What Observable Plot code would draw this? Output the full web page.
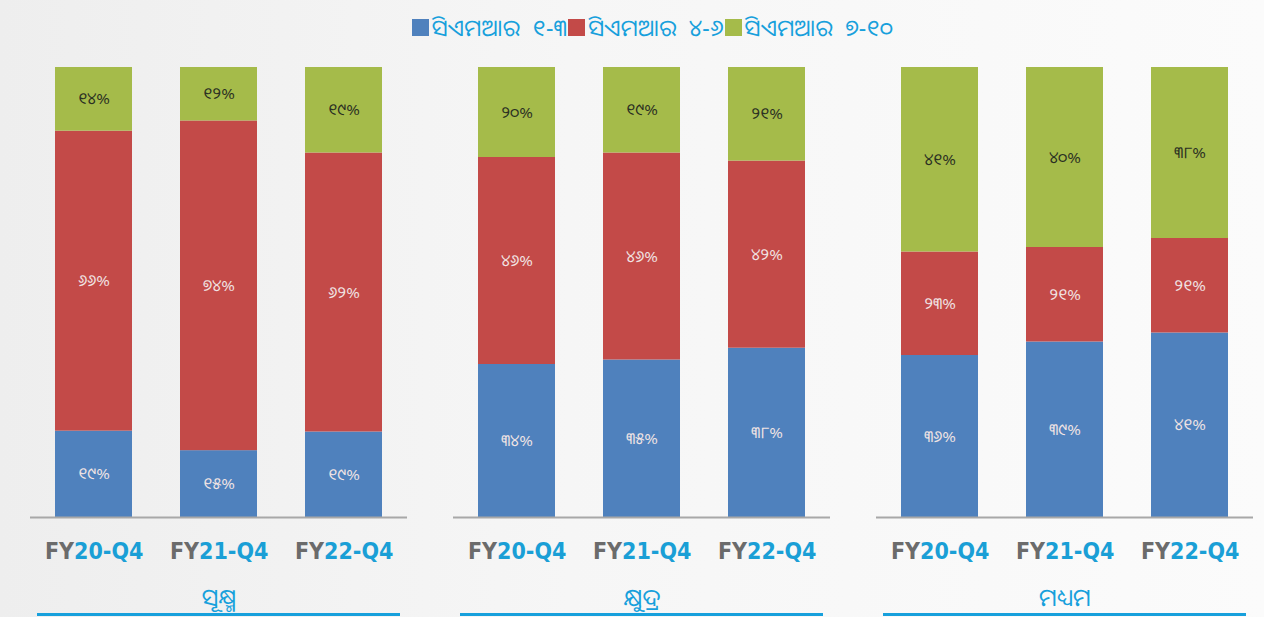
<!DOCTYPE html>
<html><head><meta charset="utf-8">
<script src="https://cdn.jsdelivr.net/npm/d3@7"></script>
<script src="https://cdn.jsdelivr.net/npm/@observablehq/plot@0.6"></script>
<style>
html,body{margin:0;padding:0;}
body{width:1264px;height:617px;overflow:hidden;background:linear-gradient(90deg,#eeeeee 0%,#f6f6f6 45%,#fbfbfb 100%);font-family:"Noto Sans Oriya","Noto Sans Odia","Lohit Odia","Noto Sans",sans-serif;}
#legend{height:54px;display:flex;justify-content:center;align-items:center;color:#17a0dc;font-size:23px;word-spacing:6px;letter-spacing:0.4px;padding-left:42px;box-sizing:border-box;}
#legend .sw{display:inline-block;width:17px;height:17px;margin:0 3px 0 0;}
#legend .it{display:flex;align-items:center;margin-right:1px;}
#chart svg{display:block;background:transparent;}
</style></head><body>
<div id="legend"></div><div id="chart"></div>
<script>
// categories
const groups = ["ସୂକ୍ଷ୍ମ", "କ୍ଷୁଦ୍ର", "ମଧ୍ୟମ"];
const years = ["FY20-Q4", "FY21-Q4", "FY22-Q4"];
const series = ["ସିଏମଆର ୧-୩", "ସିଏମଆର ୪-୬", "ସିଏମଆର ୭-୧୦"];
const colors = ["#4f81bd", "#c34a48", "#a5bb4a"];
// values (%) per group, in year order
const cmr13  = {"ସୂକ୍ଷ୍ମ": [19, 15, 19], "କ୍ଷୁଦ୍ର": [34, 35, 38], "ମଧ୍ୟମ": [36, 39, 41]};
const cmr46  = {"ସୂକ୍ଷ୍ମ": [66, 74, 62], "କ୍ଷୁଦ୍ର": [46, 46, 42], "ମଧ୍ୟମ": [23, 21, 21]};
const cmr710 = {"ସୂକ୍ଷ୍ମ": [14, 12, 19], "କ୍ଷୁଦ୍ର": [20, 19, 21], "ମଧ୍ୟମ": [41, 40, 38]};
const seriesValues = [cmr13, cmr46, cmr710];

const data = [];
groups.forEach(g => years.forEach((y, yi) => seriesValues.forEach((sv, si) =>
  data.push({group: g, year: y, series: series[si], value: sv[g][yi]}))));

const odia = n => String(n).replace(/\d/g, c => String.fromCharCode(0x0B66 + (+c))) + "%";

// legend
const lg = document.getElementById("legend");
series.forEach((s, i) => {
  const it = document.createElement("span"); it.className = "it";
  const sw = document.createElement("span"); sw.className = "sw"; sw.style.background = colors[i];
  const tx = document.createElement("span"); tx.textContent = s;
  it.appendChild(sw); it.appendChild(tx); lg.appendChild(it);
});

const odiaFont = "'Noto Sans Oriya','Noto Sans Odia','Lohit Odia','Noto Sans',sans-serif";
const yearFont = "'DejaVu Sans Condensed','Liberation Sans Narrow',sans-serif";
const stackOpts = {fx: "group", x: "year", y: "value", z: "series", offset: "normalize"};

const plot = Plot.plot({
  width: 1264, height: 563,
  marginTop: 13, marginBottom: 100, marginLeft: 30, marginRight: 11,
  style: {background: "transparent", overflow: "visible"},
  fx: {domain: groups, paddingInner: 0.109, paddingOuter: 0, axis: null},
  x: {domain: years, paddingInner: 0.386, paddingOuter: 0.19, axis: null},
  y: {domain: [0, 1], axis: null},
  color: {domain: series, range: colors},
  marks: [
    Plot.barY(data, Plot.stackY({...stackOpts, fill: "series"})),
    Plot.text(data, Plot.stackY({...stackOpts, text: d => d.series === series[2] ? odia(d.value) : "",
      fill: "#2a2f22", fontSize: 16, fontFamily: odiaFont})),
    Plot.text(data, Plot.stackY({...stackOpts, text: d => d.series !== series[2] ? odia(d.value) : "",
      fill: "#f1e4e4", fontSize: 16, fontFamily: odiaFont})),
    Plot.ruleY([0], {stroke: "#a8a8a8", strokeWidth: 2}),
    Plot.ruleY([0], {dy: 97, stroke: "#17a0dc", strokeWidth: 3, insetLeft: 7, insetRight: 7}),
    // year labels: grey "FY" + blue remainder, split at the same anchor
    Plot.text(years, {x: d => d, y: () => 0, dx: -20, dy: 34, text: d => d.slice(0, 2), textAnchor: "end",
      fontSize: 23, fontWeight: "bold", fontFamily: yearFont, fill: "#6b6b6b"}),
    Plot.text(years, {x: d => d, y: () => 0, dx: -20, dy: 34, text: d => d.slice(2), textAnchor: "start",
      fontSize: 23, fontWeight: "bold", fontFamily: yearFont, fill: "#1a9fd6"}),
    Plot.text(groups, {fx: d => d, y: () => 0, dy: 81, text: d => d, fontSize: 24,
      fill: "#17a0dc", fontFamily: odiaFont})
  ]
});
document.getElementById("chart").appendChild(plot);
</script>
</body></html>
